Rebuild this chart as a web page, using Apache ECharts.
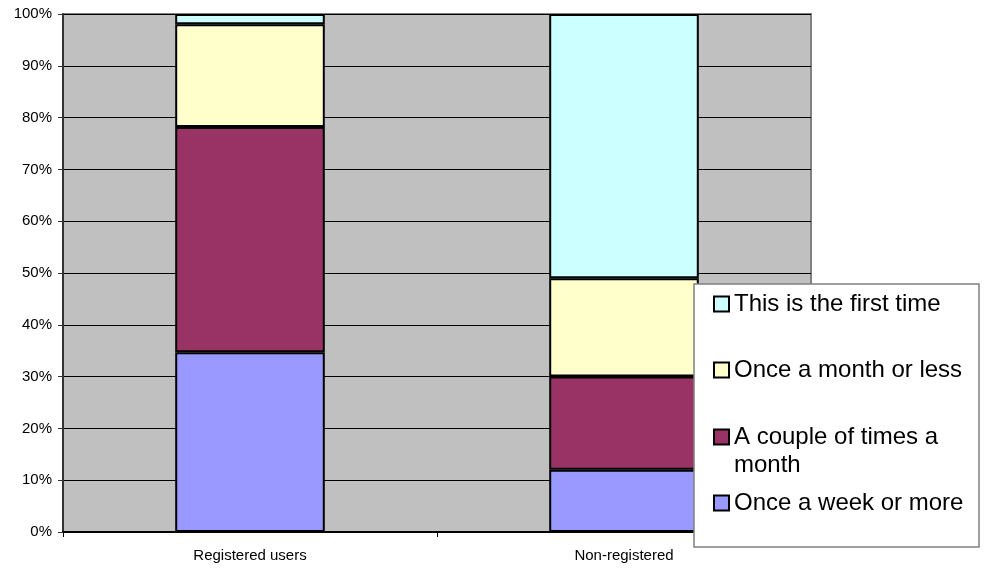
<!DOCTYPE html>
<html>
<head>
<meta charset="utf-8">
<script src="https://cdn.jsdelivr.net/npm/echarts@6/dist/echarts.min.js"></script>
<style>
html,body{margin:0;padding:0;background:#fff;}
#chart{width:985px;height:568px;}
</style>
</head>
<body>
<div id="chart"></div>
<script>
const categories = ['Registered users', 'Non-registered'];
const seriesNames = ['Once a week or more', 'A couple of times a month', 'Once a month or less', 'This is the first time'];
const onceWeek = [34.7, 12.0];
const coupleMonth = [43.5, 18.0];
const onceMonth = [19.8, 19.0];
const firstTime = [2.0, 51.0];
const yTicks = [0, 10, 20, 30, 40, 50, 60, 70, 80, 90, 100];

const colors = ['#9999FF', '#993366', '#FFFFCC', '#CCFFFF'];
const values = [onceWeek, coupleMonth, onceMonth, firstTime];

const chart = echarts.init(document.getElementById('chart'));

const font = 'Liberation Sans, Arial, sans-serif';
const legendTops = {
  'This is the first time': 290,
  'Once a month or less': 356,
  'A couple of times a month': 395,
  'Once a week or more': 489
};
const legendLabel = {
  'A couple of times a month': '\nA couple of times a\nmonth'
};

const legends = seriesNames.slice().reverse().map(n => ({
  data: [n],
  orient: 'vertical',
  left: 713,
  top: legendTops[n],
  padding: 0,
  z: 101,
  icon: 'rect',
  itemWidth: 15,
  itemHeight: 15,
  itemGap: 0,
  selectedMode: false,
  itemStyle: { borderColor: '#000', borderWidth: 2 },
  formatter: name => legendLabel[name] || name,
  textStyle: { fontFamily: font, fontSize: 24, lineHeight: 28, color: '#000' }
}));

const option = {
  animation: false,
  backgroundColor: '#fff',
  grid: {
    left: 63, right: 174, top: 14, bottom: 36,
    show: true, backgroundColor: '#C0C0C0', borderColor: '#808080', borderWidth: 2
  },
  xAxis: {
    type: 'category',
    data: categories,
    axisLine: { lineStyle: { color: '#000', width: 2 } },
    axisTick: { show: true, length: 5, lineStyle: { color: '#000', width: 1 } },
    axisLabel: { color: '#000', fontFamily: font, fontSize: 15, margin: 16 },
    splitLine: { show: false }
  },
  yAxis: {
    type: 'value',
    min: yTicks[0],
    max: yTicks[yTicks.length - 1],
    interval: 10,
    axisLine: { show: true, lineStyle: { color: '#333', width: 2 } },
    axisTick: { show: true, length: 5, lineStyle: { color: '#333', width: 1 } },
    axisLabel: { color: '#000', fontFamily: font, fontSize: 15, margin: 11, formatter: '{value}%' },
    splitLine: { show: true, lineStyle: { color: '#000', width: 1 } }
  },
  legend: legends,
  graphic: [{
    type: 'rect',
    z: 100,
    shape: { x: 694, y: 284, width: 285, height: 263 },
    style: { fill: '#fff', stroke: '#808080', lineWidth: 1.5 }
  }],
  series: seriesNames.map((n, i) => ({
    name: n,
    type: 'bar',
    stack: 'total',
    barWidth: '40%',
    data: values[i],
    itemStyle: { color: colors[i], borderColor: '#000', borderWidth: 2 }
  }))
};
chart.setOption(option);
</script>
</body>
</html>
